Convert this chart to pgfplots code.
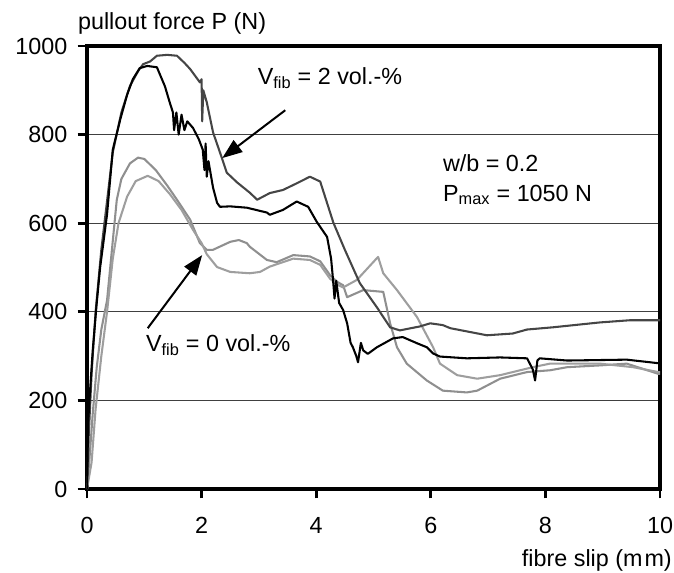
\documentclass[border=0pt]{standalone}
\usepackage{fontspec}
\setmainfont{Liberation Sans}
\usepackage{pgfplots}
\pgfplotsset{compat=1.18}
\usetikzlibrary{arrows.meta}

\definecolor{darkcurve}{gray}{0.27}
\definecolor{lightA}{gray}{0.56}
\definecolor{lightB}{gray}{0.62}

\begin{document}
\fontsize{17.5}{21}\selectfont
\begin{tikzpicture}
\useasboundingbox (-65.25pt,-62.25pt) rectangle (440.25pt,366.75pt);
\begin{axis}[
  at={(0,0)}, anchor=south west,
  scale only axis, width=429.75pt, height=332.25pt,
  xmin=0, xmax=10, ymin=0, ymax=1000,
  xtick={0,2,4,6,8,10}, ytick={0,200,400,600,800,1000},
  xtick pos=bottom, ytick pos=left,
  tick align=outside, major tick length=7pt,
  tick style={black, line width=2pt},
  axis line style={black, line width=3pt},
  ymajorgrids, grid style={black!75, line width=0.6pt},
  clip mode=individual,
  /pgf/number format/assume math mode=true,
  /pgf/number format/set thousands separator={},
  xticklabel style={anchor=north, inner sep=0pt, yshift=-14pt},
  yticklabel style={anchor=east, inner sep=0pt, xshift=-7.5pt},
  every axis plot/.append style={line width=1.55pt, line join=round},
]
% V_fib = 0 vol.-%, first specimen
\addplot[lightA, mark=none] coordinates {
(0,0) (0.05,80) (0.1,170) (0.17,275) (0.25,360) (0.35,426) (0.45,560)
(0.52,653) (0.6,700) (0.75,735) (0.89,748) (1.0,745) (1.2,720) (1.4,685)
(1.57,653) (1.8,608) (1.97,555) (2.09,540) (2.2,540) (2.5,558) (2.65,562)
(2.79,555) (2.84,547) (3.14,517) (3.31,512) (3.6,528) (3.89,525) (4.07,514)
(4.24,483) (4.36,468) (4.47,460) (4.54,433) (4.82,449) (5.17,445) (5.29,374)
(5.41,320) (5.58,283) (5.93,245) (6.21,222) (6.63,218) (6.81,222) (7.21,249)
(7.68,264) (8.08,268) (8.38,275) (8.95,279) (9.42,283) (9.97,260) (10,260)
};
% V_fib = 0 vol.-%, second specimen
\addplot[lightB, mark=none] coordinates {
(0,0) (0.08,60) (0.15,180) (0.25,300) (0.35,400) (0.45,520) (0.55,600)
(0.7,660) (0.85,695) (1.06,707) (1.25,695) (1.45,665) (1.65,630) (1.85,585)
(2.0,555) (2.09,530) (2.27,501) (2.5,490) (2.84,487) (3.02,490) (3.19,502)
(3.37,510) (3.6,520) (3.89,517) (4.07,506) (4.24,475) (4.36,462) (4.47,455)
(4.71,472) (5.08,524) (5.17,487) (5.41,449) (5.76,388) (6.04,320) (6.16,283)
(6.46,257) (6.81,249) (7.21,257) (7.78,275) (8.08,283) (8.95,283) (9.53,275)
(9.97,264) (10,264)
};
% V_fib = 2 vol.-%, first specimen
\addplot[darkcurve, mark=none] coordinates {
(0,0) (0.03,120) (0.08,260) (0.15,400) (0.25,540) (0.35,650) (0.45,760)
(0.6,850) (0.75,910) (0.9,945) (0.98,959) (1.1,965) (1.22,978) (1.4,980)
(1.57,978) (1.7,962) (1.8,948) (1.97,918) (2.0,925) (2.01,830) (2.03,900)
(2.09,873) (2.2,805) (2.32,760) (2.44,714) (2.62,692) (2.84,669) (2.97,653)
(3.19,668) (3.42,675) (3.66,690) (3.89,705) (4.07,694) (4.3,601) (4.5,540)
(4.76,465) (5.06,410) (5.29,365) (5.46,358) (5.81,367) (5.99,374) (6.21,370)
(6.34,363) (6.98,347) (7.43,351) (7.68,360) (8.13,365) (8.95,376) (9.48,381)
(9.97,381) (10,381)
};
% V_fib = 2 vol.-%, second specimen
\addplot[black, mark=none] coordinates {
(0,0) (0.02,150) (0.05,215) (0.1,313) (0.17,420) (0.23,501) (0.3,570)
(0.35,620) (0.45,766) (0.58,834) (0.7,890) (0.8,925) (0.92,950) (1.05,955)
(1.22,952) (1.36,909) (1.45,870) (1.5,850) (1.52,810) (1.56,850) (1.6,800)
(1.65,845) (1.7,810) (1.75,830) (1.85,815) (1.95,790) (2.02,766) (2.05,720)
(2.07,780) (2.09,705) (2.12,740) (2.2,680) (2.27,646) (2.32,637) (2.5,638)
(2.79,635) (3.14,624) (3.19,619) (3.42,630) (3.66,649) (3.86,637) (4.01,603)
(4.19,569) (4.26,520) (4.29,478) (4.32,430) (4.35,470) (4.4,420) (4.47,404)
(4.54,374) (4.6,330) (4.64,320) (4.7,300) (4.73,286) (4.78,330) (4.82,313)
(4.9,305) (5.06,320) (5.2,330) (5.34,340) (5.51,343) (5.76,329) (5.93,320)
(6.04,306) (6.16,299) (6.63,295) (7.21,297) (7.68,295) (7.78,270) (7.82,245)
(7.86,290) (7.9,295) (8.38,290) (9.42,292) (9.97,284) (10,284)
};

% annotations
\draw[line width=1.5pt, -{Triangle[length=15pt,width=11pt]}]
  (axis cs:3.46,855) -- (axis cs:2.36,747);
\draw[line width=1.5pt, -{Triangle[length=15pt,width=11pt]}]
  (axis cs:1.06,363) -- (axis cs:2.01,528);
\node at (axis cs:4.24,928) {V\textsubscript{fib} = 2 vol.-\%};
\node at (axis cs:2.29,325) {V\textsubscript{fib} = 0 vol.-\%};
\node[anchor=west, inner sep=0pt] at (axis cs:6.21,736) {w/b = 0.2};
\node[anchor=west, inner sep=0pt] at (axis cs:6.21,664) {P\textsubscript{max} = 1050 N};

% axis titles
\node[anchor=base west, inner sep=0pt] at (rel axis cs:-0.016,1.038) {pullout force P (N)};
\node[anchor=base east, inner sep=0pt] at (rel axis cs:1.021,-0.176) {fibre slip (m\kern1.5pt m)};
\end{axis}
\end{tikzpicture}
\end{document}
